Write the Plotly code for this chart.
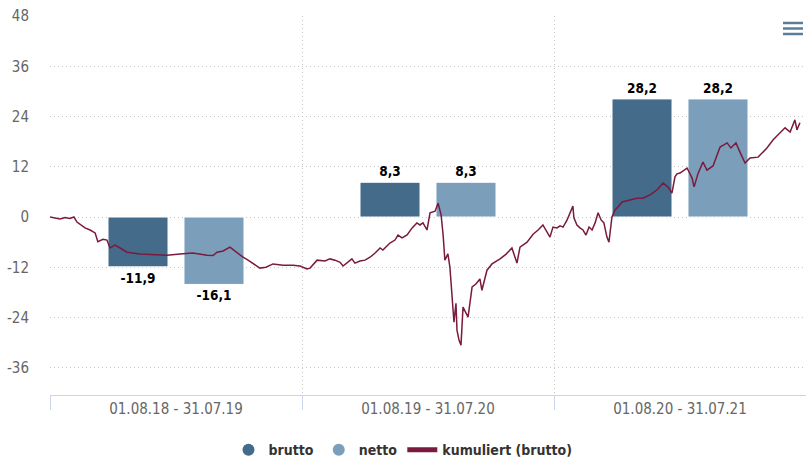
import plotly.graph_objects as go

# ---- data ----
categories = ["01.08.18 - 31.07.19", "01.08.19 - 31.07.20", "01.08.20 - 31.07.21"]
brutto = [-11.9, 8.3, 28.2]
netto = [-16.1, 8.3, 28.2]

# cumulative (gross) performance; t = years since 01.08.2018
line_t = [0.000, 0.020, 0.040, 0.060, 0.079, 0.095, 0.107, 0.139, 0.159, 0.179,
          0.190, 0.210, 0.226, 0.238, 0.258, 0.278, 0.306, 0.357, 0.417,
          0.464, 0.516, 0.567, 0.623, 0.647, 0.663, 0.687, 0.714, 0.730, 0.742,
          0.766, 0.786, 0.806, 0.833, 0.857, 0.885, 0.925, 0.964, 0.992,
          1.020, 1.032, 1.060, 1.091, 1.111, 1.131, 1.151, 1.163, 1.179, 1.198,
          1.210, 1.230, 1.250, 1.270, 1.290, 1.310, 1.321, 1.349, 1.369, 1.381,
          1.397, 1.417, 1.437, 1.456, 1.468, 1.480, 1.496, 1.500, 1.508,
          1.528, 1.540, 1.552, 1.560, 1.567, 1.579, 1.587, 1.595,
          1.603, 1.611, 1.615, 1.623, 1.631, 1.639, 1.651, 1.659, 1.675, 1.690,
          1.706, 1.714, 1.734, 1.754, 1.786, 1.810, 1.833, 1.853, 1.865, 1.893,
          1.917, 1.937, 1.956, 1.972, 1.984, 1.996, 2.012, 2.024,
          2.036, 2.052, 2.063, 2.075, 2.079, 2.091, 2.103, 2.115, 2.127, 2.139,
          2.151, 2.163, 2.175, 2.187, 2.198, 2.210, 2.218, 2.230, 2.242, 2.254,
          2.270, 2.302, 2.329, 2.353, 2.381, 2.409, 2.433, 2.452, 2.468, 2.480,
          2.488, 2.500, 2.528, 2.548, 2.556, 2.571, 2.591,
          2.607, 2.631, 2.659, 2.687, 2.702, 2.722, 2.738, 2.758, 2.778, 2.810,
          2.845, 2.869, 2.897, 2.917, 2.937, 2.956, 2.964, 2.976]
line_v = [0.0, -0.24, -0.48, -0.12, -0.36, 0.0, -1.2, -2.6, -3.1, -3.8,
          -5.9, -5.3, -5.5, -7.4, -6.7, -7.4, -8.4, -8.85, -9.0,
          -9.1, -8.85, -8.6, -9.1, -9.2, -8.4, -8.1, -7.2, -7.9, -8.6,
          -9.6, -10.3, -11.2, -12.2, -12.0, -11.2, -11.5, -11.5, -11.7,
          -12.4, -12.2, -10.3, -10.5, -10.0, -10.3, -10.8, -11.7, -11.0, -10.0,
          -11.0, -10.5, -10.3, -9.6, -8.6, -7.4, -7.9, -6.2, -5.5, -4.3,
          -5.0, -4.3, -2.6, -1.4, -1.9, -1.4, -3.1, -1.9, 1.0,
          1.4, 3.3, 0.5, -4.3, -10.3, -8.8, -12.0, -18.2,
          -25.1, -20.6, -27.0, -29.4, -30.6, -21.5, -23.0, -23.9, -16.7, -16.0,
          -14.8, -17.5, -12.7, -11.2, -10.0, -8.85, -7.4, -11.0, -7.2, -6.0,
          -4.1, -3.1, -1.9, -3.6, -4.8, -2.4, -2.6, -2.1,
          -2.4, -0.7, 1.0, 2.6, -0.2, -1.9, -2.6, -3.1, -4.3, -2.4,
          -3.1, -1.4, 1.0, -0.7, -1.4, -4.8, -6.0, 0.0, 1.7, 2.4,
          3.6, 4.1, 4.5, 4.5, 5.3, 6.5, 8.1, 7.2, 5.7, 9.6,
          10.3, 10.5, 11.7, 9.3, 7.2, 10.3, 13.1,
          11.2, 12.2, 16.7, 17.7, 16.5, 17.7, 15.5, 12.9, 14.1, 14.3,
          16.5, 18.4, 20.1, 21.3, 20.3, 23.2, 20.8, 22.5]

y_ticks = [-36, -24, -12, 0, 12, 24, 36, 48]

# ---- styling ----
C_BRUTTO = "#456b8b"
C_NETTO = "#7b9fbb"
C_LINE = "#7a1a3e"
COND = "DejaVu Sans Condensed, DejaVu Sans, sans-serif"
GRID = "#c4c4c4"
DOT = "1px,3px"

def fmt(v):
    return f"{v:.1f}".replace(".", ",")

cat_x = list(range(len(categories)))
line_x = [t - 0.5 for t in line_t]

fig = go.Figure()
for name, vals, col in [("brutto", brutto, C_BRUTTO), ("netto", netto, C_NETTO)]:
    fig.add_trace(go.Bar(
        x=cat_x, y=vals, name=name, marker=dict(color=col, line=dict(color="white", width=1)),
        text=[fmt(v) for v in vals], textposition="outside", cliponaxis=False,
        textfont=dict(family=COND, size=13.5, color="#000", weight="bold"),
        showlegend=False, hoverinfo="skip"))
fig.add_trace(go.Scatter(
    x=line_x, y=line_v, mode="lines", name="kumuliert (brutto)",
    line=dict(color=C_LINE, width=1.5), showlegend=False))

# legend proxies (circle symbols like the original)
fig.add_trace(go.Scatter(x=[None], y=[None], mode="markers", name="brutto",
                         marker=dict(symbol="circle", size=11, color=C_BRUTTO)))
fig.add_trace(go.Scatter(x=[None], y=[None], mode="markers", name="netto",
                         marker=dict(symbol="circle", size=11, color=C_NETTO)))
fig.add_trace(go.Scatter(x=[None], y=[None], mode="lines", name="kumuliert (brutto)",
                         line=dict(color=C_LINE, width=1.5)))

bounds = [c - 0.5 for c in cat_x] + [cat_x[-1] + 0.5]

fig.update_layout(
    width=806, height=464, autosize=False,
    margin=dict(l=50, r=0, t=16, b=69, autoexpand=False),
    paper_bgcolor="white", plot_bgcolor="white",
    barmode="group", bargap=0.397, bargroupgap=0.21,
    separators=",.",
    showlegend=True,
    legend=dict(orientation="h", x=0.5, xanchor="center", xref="container",
                y=0.03, yanchor="middle", yref="container",
                font=dict(family=COND, size=14, color="#333", weight="bold"),
                itemsizing="constant", itemwidth=30, traceorder="normal"),
    xaxis=dict(range=[-0.5, 2.5], tickvals=cat_x, ticktext=categories, automargin=False,
               showgrid=False, zeroline=False, showline=True, linecolor="#ccd6eb", linewidth=1,
               ticks="", tickfont=dict(family=COND, size=15, color="#666"),
               minor=dict(tickvals=bounds, showgrid=True, gridcolor=GRID, griddash=DOT,
                          gridwidth=1, ticks="outside", ticklen=14, tickcolor="#ccd6eb", tickwidth=1),
               fixedrange=True),
    yaxis=dict(range=[-42.5, 48.0], tickvals=y_ticks, ticktext=[str(v) for v in y_ticks],
               automargin=False,
               showgrid=True, gridcolor=GRID, griddash=DOT, gridwidth=1,
               zeroline=False, showline=False, ticks="outside", ticklen=17,
               tickcolor="rgba(0,0,0,0)",
               tickfont=dict(family=COND, size=15, color="#666"), fixedrange=True),
    font=dict(family=COND),
)

# context-menu (hamburger) icon in the top-right corner
for py in [23, 28.5, 34]:
    yp = (395 - py) / 379
    fig.add_shape(type="line", xref="paper", yref="paper",
                  x0=(783 - 50) / 756, x1=(803 - 50) / 756, y0=yp, y1=yp,
                  line=dict(color="#5b7d99", width=2.5))

fig.write_html("out.html", config={"displayModeBar": False},
               post_script="document.body.style.margin='0px';document.body.style.overflow='hidden';")
